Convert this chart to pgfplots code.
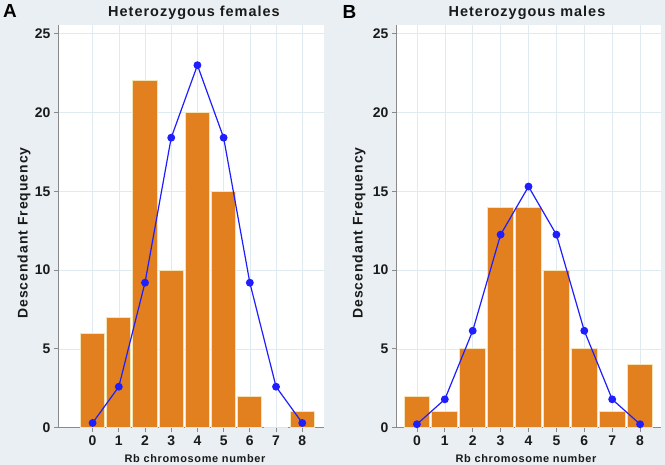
\documentclass[border=0pt]{standalone}
\usepackage{pgfplots}
\pgfplotsset{compat=1.18}
\usepackage{fontspec}
\setmainfont{Liberation Sans}
\newfontfamily\spfont[LetterSpace=7]{Liberation Sans}
\newfontfamily\spfontb[LetterSpace=6]{Liberation Sans}
\definecolor{bg}{HTML}{E9EFF2}
\definecolor{barc}{HTML}{E2801F}
\definecolor{baredge}{HTML}{F3E3B5}
\definecolor{gridc}{HTML}{DFEAF1}
\definecolor{axc}{HTML}{8A8A8A}
\definecolor{lineb}{HTML}{1E1EFF}
\definecolor{txt}{HTML}{1A1A1A}
\pgfplotsset{panel/.style={
  scale only axis, height=403bp, anchor=south west,
  ymin=0, ymax=25.57, ytick={0,5,...,25}, xtick={0,...,8},
  axis lines=left, axis line style={-, axc, line width=0.8bp},
  tick align=outside, major tick length=4bp,
  tick style={axc, line width=0.8bp},
  axis background/.style={fill=white},
  grid=major, grid style={gridc, line width=0.6bp},
  /pgf/number format/assume math mode=true,
  ticklabel style={font=\bfseries\fontsize{14}{14}\selectfont, text=txt},
  xticklabel style={yshift=-1bp},
  ybar, bar width=0.92,
}}
\begin{document}
\begin{tikzpicture}[x=1bp,y=1bp]
\fill[bg] (0,0) rectangle (665,465);
\useasboundingbox (0,0) rectangle (665,465);
\begin{axis}[panel, at={(58bp,37.3bp)}, width=266bp, xmin=-1.32, xmax=8.83]
\addplot[fill=barc, draw=baredge, line width=1bp] coordinates {(0,6) (1,7) (2,22) (3,10) (4,20) (5,15) (6,2) (7,0) (8,1)};
\addplot[sharp plot, lineb, line width=1.2bp, mark=*, mark size=3.3bp, mark options={fill=lineb, draw=lineb}] coordinates {(0,0.3) (1,2.6) (2,9.2) (3,18.4) (4,23.0) (5,18.4) (6,9.2) (7,2.6) (8,0.3)};
\end{axis}
\begin{axis}[panel, at={(396bp,37.3bp)}, width=265bp, xmin=-0.75, xmax=8.75]
\addplot[fill=barc, draw=baredge, line width=1bp] coordinates {(0,2) (1,1) (2,5) (3,14) (4,14) (5,10) (6,5) (7,1) (8,4)};
\addplot[sharp plot, lineb, line width=1.2bp, mark=*, mark size=3.3bp, mark options={fill=lineb, draw=lineb}] coordinates {(0,0.22) (1,1.8) (2,6.15) (3,12.25) (4,15.3) (5,12.25) (6,6.15) (7,1.8) (8,0.22)};
\end{axis}
\node[font=\bfseries\fontsize{19}{19}\selectfont, text=black] at (10,454.5) {A};
\node[font=\bfseries\fontsize{19}{19}\selectfont, text=black] at (349.5,453.5) {B};
\node[font=\spfont\bfseries\fontsize{14.5}{14.5}\selectfont, text=txt] at (194,452) {Heterozygous females};
\node[font=\spfont\bfseries\fontsize{14.5}{14.5}\selectfont, text=txt] at (527,452) {Heterozygous males};
\node[font=\spfont\bfseries\fontsize{14}{14}\selectfont, text=txt, rotate=90] at (24,232) {Descendant Frequency};
\node[font=\spfont\bfseries\fontsize{14}{14}\selectfont, text=txt, rotate=90] at (359,232) {Descendant Frequency};
\node[font=\spfontb\bfseries\fontsize{11}{11}\selectfont, text=txt] at (195,6) {Rb chromosome number};
\node[font=\spfontb\bfseries\fontsize{11}{11}\selectfont, text=txt] at (526,6) {Rb chromosome number};
\end{tikzpicture}
\end{document}
